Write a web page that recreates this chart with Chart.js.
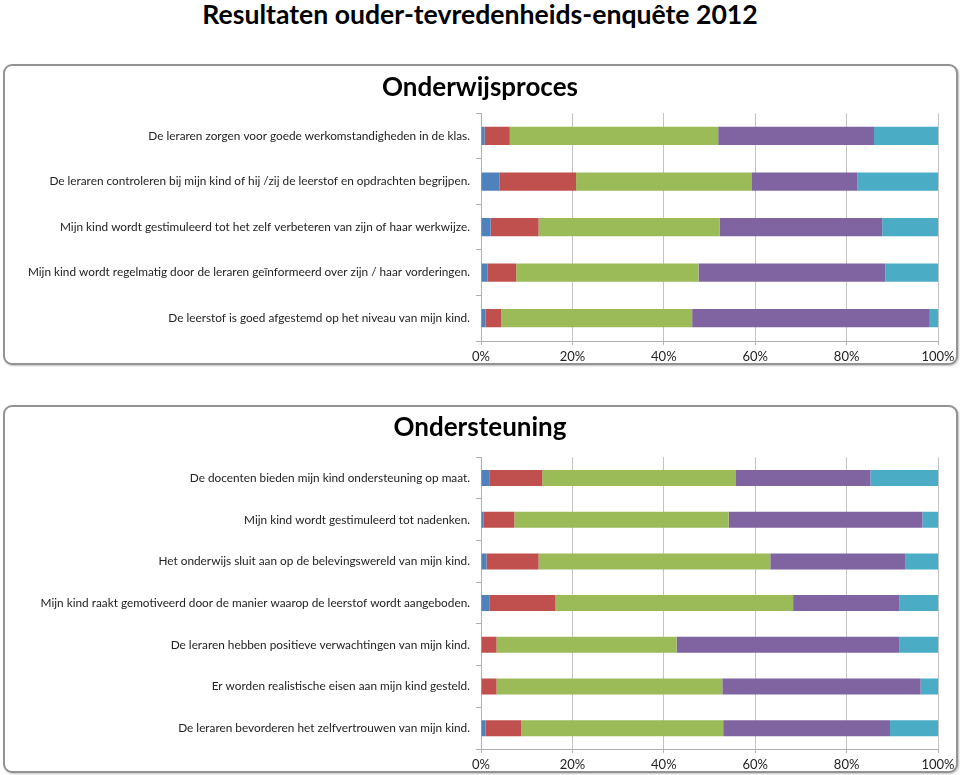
<!DOCTYPE html>
<html>
<head>
<meta charset="utf-8">
<script src="https://cdn.jsdelivr.net/npm/chart.js@4"></script>
<style>
  html, body { margin: 0; padding: 0; background: #ffffff; }
  body { width: 960px; height: 775px; position: relative; overflow: hidden; font-family: Lato, "Open Sans", sans-serif; }
  #mainTitle { position: absolute; left: 0; top: 0; width: 960px; text-align: center; font-weight: bold; font-size: 26.6px; line-height: 28px; color: #000; }
  .panel { position: absolute; left: 3px; width: 951px; border: 2px solid #939393; border-radius: 9px; box-shadow: 1px 1px 2px rgba(0,0,0,0.25); background: #fff; }
  .wrap { position: absolute; left: 0; width: 960px; }
</style>
</head>
<body>
<div id="mainTitle">Resultaten ouder-tevredenheids-enquête 2012</div>
<div class="panel" style="top:64px;height:297px;"></div>
<div class="panel" style="top:405px;height:364px;"></div>
<div class="wrap" style="top:65px;height:300px;"><canvas id="c1"></canvas></div>
<div class="wrap" style="top:405px;height:368px;"><canvas id="c2"></canvas></div>
<script>
// ---- Data ----
const seriesNames = ["Helemaal oneens", "Oneens", "Eens", "Helemaal eens", "Weet niet"];
const seriesColors = ["#4F81BD", "#C0504D", "#9BBB59", "#8064A2", "#4BACC6"];
const xTickLabels = ["0%", "20%", "40%", "60%", "80%", "100%"];

const title1 = "Onderwijsproces";
const categories1 = [
  "De leraren zorgen voor goede werkomstandigheden in de klas.",
  "De leraren controleren bij mijn kind of hij /zij de leerstof en opdrachten begrijpen.",
  "Mijn kind wordt gestimuleerd tot het zelf verbeteren van zijn of haar werkwijze.",
  "Mijn kind wordt regelmatig door de leraren geïnformeerd over zijn / haar vorderingen.",
  "De leerstof is goed afgestemd op het niveau van mijn kind."
];
const proces1 = [0.8, 4.1, 2.1, 1.4, 1.0];
const proces2 = [5.5, 16.7, 10.5, 6.3, 3.4];
const proces3 = [45.6, 38.5, 39.6, 39.9, 41.8];
const proces4 = [34.1, 23.1, 35.6, 40.9, 52.0];
const proces5 = [14.0, 17.6, 12.2, 11.5, 1.8];

const title2 = "Ondersteuning";
const categories2 = [
  "De docenten bieden mijn kind ondersteuning op maat.",
  "Mijn kind wordt gestimuleerd tot nadenken.",
  "Het onderwijs sluit aan op de belevingswereld van mijn kind.",
  "Mijn kind raakt gemotiveerd door de manier waarop de leerstof wordt aangeboden.",
  "De leraren hebben positieve verwachtingen van mijn kind.",
  "Er worden realistische eisen aan mijn kind gesteld.",
  "De leraren bevorderen het zelfvertrouwen van mijn kind."
];
const steun1 = [1.8, 0.6, 1.2, 1.8, 0.2, 0.2, 1.0];
const steun2 = [11.6, 6.7, 11.4, 14.5, 3.2, 3.2, 7.8];
const steun3 = [42.4, 46.9, 50.7, 52.0, 39.4, 49.4, 44.2];
const steun4 = [29.4, 42.4, 29.5, 23.2, 48.7, 43.4, 36.5];
const steun5 = [14.8, 3.4, 7.2, 8.5, 8.5, 3.8, 10.5];

// ---- Chart builder ----
function makeChart(id, title, categories, series, opts) {
  const datasets = series.map((vals, i) => ({
    label: seriesNames[i],
    data: vals,
    backgroundColor: seriesColors[i],
    borderWidth: 0,
    barPercentage: opts.barPct,
    categoryPercentage: 1.0
  }));
  return new Chart(document.getElementById(id), {
    type: 'bar',
    data: { labels: categories, datasets },
    options: {
      indexAxis: 'y',
      responsive: true,
      maintainAspectRatio: false,
      animation: false,
      layout: { padding: { left: 22, right: 22, top: 0, bottom: 0 } },
      plugins: {
        legend: { display: false },
        tooltip: { enabled: false },
        title: {
          display: true,
          text: title,
          color: '#000',
          font: { family: 'Lato', size: 26, weight: 'bold' },
          padding: { top: opts.titleTop, bottom: opts.titleBottom }
        }
      },
      scales: {
        x: {
          stacked: true,
          min: 0, max: 100,
          afterBuildTicks: (scale) => { scale.ticks = xTickLabels.map((t, i) => ({ value: i * 20 })); },
          ticks: {
            callback: (v, i) => xTickLabels[i],
            color: '#222',
            font: { family: 'Lato', size: 13 },
            padding: 4,
            maxRotation: 0
          },
          grid: { color: '#c3c3c3', lineWidth: 1, tickLength: 4, tickColor: '#b0b0b0' },
          border: { display: true, color: '#b0b0b0' },
          afterFit: (scale) => { scale.height = 24; }
        },
        y: {
          stacked: true,
          ticks: {
            color: '#222',
            font: { family: 'Lato', size: opts.labelSize },
            padding: 6,
            autoSkip: false
          },
          grid: { display: true, drawOnChartArea: false, drawTicks: true, tickLength: 5, color: '#b0b0b0' },
          border: { display: true, color: '#b0b0b0' },
          afterFit: (scale) => { scale.width = 459; }
        }
      }
    }
  });
}

makeChart('c1', title1, categories1, [proces1, proces2, proces3, proces4, proces5],
  { barPct: 0.40, labelSize: 11.8, titleTop: 7, titleBottom: 10 });
makeChart('c2', title2, categories2, [steun1, steun2, steun3, steun4, steun5],
  { barPct: 0.385, labelSize: 11.8, titleTop: 7, titleBottom: 14 });
</script>
</body>
</html>
